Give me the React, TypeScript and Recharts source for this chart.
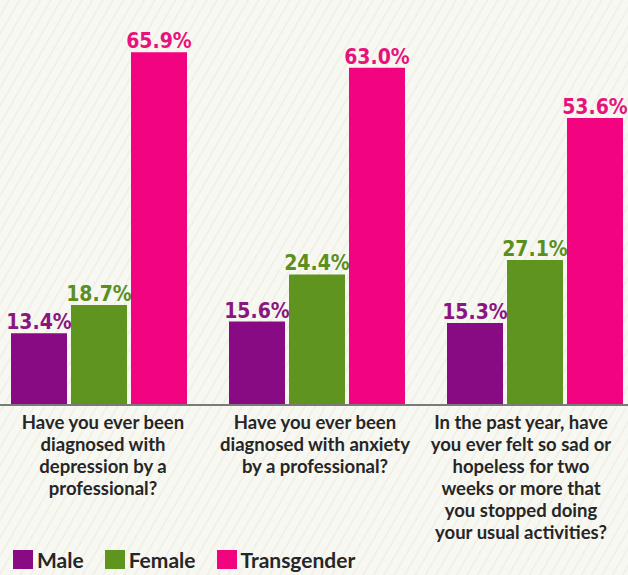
import { BarChart, Bar, XAxis, YAxis, Legend, LabelList } from "recharts";

const QUESTIONS = [
  "Have you ever been\ndiagnosed with\ndepression by a\nprofessional?",
  "Have you ever been\ndiagnosed with anxiety\nby a professional?",
  "In the past year, have\nyou ever felt so sad or\nhopeless for two\nweeks or more that\nyou stopped doing\nyour usual activities?",
];
const MALE = [13.4, 15.6, 15.3];
const FEMALE = [18.7, 24.4, 27.1];
const TRANSGENDER = [65.9, 63.0, 53.6];

const SERIES = [
  { key: "male", name: "Male", color: "#880b83", label: "#8a1680" },
  { key: "female", name: "Female", color: "#5f951f", label: "#5b8f1f" },
  { key: "transgender", name: "Transgender", color: "#f2037f", label: "#e8127c" },
];

const data = QUESTIONS.map((q, i) => ({
  q,
  male: MALE[i],
  female: FEMALE[i],
  transgender: TRANSGENDER[i],
}));

const TEXT_FONT = "Lato, 'Open Sans', sans-serif";
const NUM_FONT = "'DejaVu Sans Condensed', 'DejaVu Sans', sans-serif";

function QuestionTick(props: any) {
  const { x, y, payload, index } = props;
  const lines = String(payload.value).split("\n");
  // the last question's block sits a little left of its bars
  const cx = index === 2 ? x - 14 : index === 1 ? x - 2 : x + 4;
  return (
    <text x={cx} y={y} textAnchor="middle" fill="#262626" fontFamily={TEXT_FONT} fontWeight={700} fontSize={18.5}>
      {lines.map((l, i) => (
        <tspan key={i} x={cx} dy={i === 0 ? 24 : 22}>{l}</tspan>
      ))}
    </text>
  );
}

function LegendBox() {
  return (
    <div style={{ display: "flex", alignItems: "center", paddingLeft: 23, fontFamily: TEXT_FONT, fontWeight: 700, fontSize: 21, color: "#262626" }}>
      {SERIES.map((s) => (
        <div key={s.key} style={{ display: "flex", alignItems: "center", marginRight: 21 }}>
          <span style={{ width: 20, height: 19, background: s.color, display: "inline-block", marginRight: 4 }} />
          <span>{s.name}</span>
        </div>
      ))}
    </div>
  );
}

export default function App() {
  return (
    <div
      style={{
        position: "absolute", left: 0, top: 0, width: 628, height: 575, overflow: "hidden",
        background: "repeating-linear-gradient(120deg, #f8f8f2 0px, #f8f8f2 7px, #f1f1ea 7px, #f1f1ea 9px)",
      }}
    >
      <div style={{ position: "absolute", left: -10, top: 0 }}>
        <BarChart width={654} height={575} data={data} margin={{ top: 33, right: 0, left: 0, bottom: 0 }} barGap={4}>
          <XAxis
            dataKey="q"
            interval={0}
            tickLine={false}
            tickSize={0}
            tickMargin={0}
            height={142}
            axisLine={{ stroke: "#7a7a7a", strokeWidth: 2 }}
            tick={<QuestionTick />}
          />
          <YAxis hide domain={[0, 69.5]} />
          <Legend verticalAlign="bottom" height={28} content={<LegendBox />} />
          {SERIES.map((s) => (
            <Bar key={s.key} dataKey={s.key} name={s.name} fill={s.color} barSize={56} isAnimationActive={false}>
              <LabelList
                dataKey={s.key}
                position="top"
                offset={4}
                formatter={(v: any) => `${Number(v).toFixed(1)}%`}
                fill={s.label}
                fontFamily={NUM_FONT}
                fontWeight={700}
                fontSize={21}
              />
            </Bar>
          ))}
        </BarChart>
      </div>
    </div>
  );
}
